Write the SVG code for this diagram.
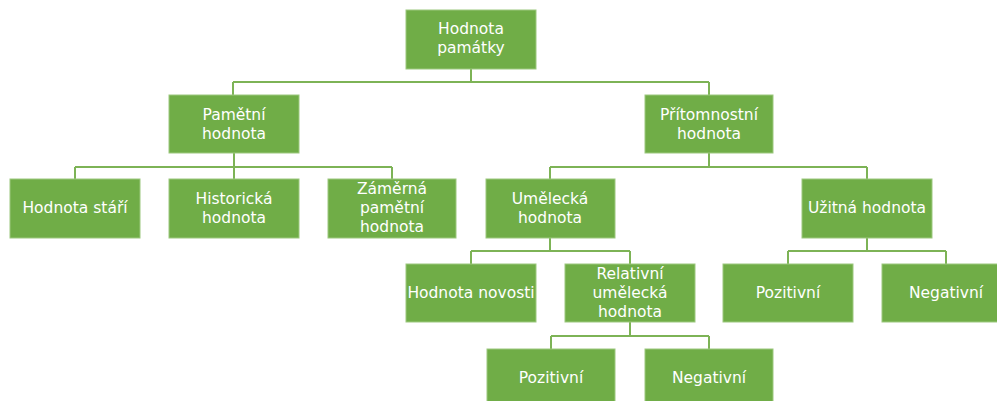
<svg xmlns="http://www.w3.org/2000/svg" width="997" height="401" viewBox="0 0 997 401">
<style>
.box{fill:#70AD47;stroke:#9CC87E;stroke-width:1}
.t{font-family:"DejaVu Sans",Verdana,sans-serif;font-size:15.5px;fill:#FFFFFF;text-anchor:middle}
.c{fill:none;stroke:#7DB356;stroke-width:2}
</style>
<rect width="997" height="401" fill="#FFFFFF"/>
<g id="connectors">
<path class="c" d="M471 69V82M233 82H709M233 82V95M709 82V95"/>
<path class="c" d="M234 153V167M75 167H392M75 167V179M234 167V179M392 167V179"/>
<path class="c" d="M709 153V167M550 167H867M550 167V179M867 167V179"/>
<path class="c" d="M550 238V251M471 251H630M471 251V264M630 251V264"/>
<path class="c" d="M867 238V251M788 251H946M788 251V264M946 251V264"/>
<path class="c" d="M630 322V336M551 336H709M551 336V349M709 336V349"/>
</g>
<g id="root"><rect class="box" x="406" y="10" width="130" height="59"/><text class="t" x="471" y="34">Hodnota</text><text class="t" x="471" y="53">památky</text></g>
<g id="pametni"><rect class="box" x="169" y="95" width="130" height="58"/><text class="t" x="234" y="120">Pamětní</text><text class="t" x="234" y="139">hodnota</text></g>
<g id="pritomnostni"><rect class="box" x="645" y="95" width="128" height="58"/><text class="t" x="709" y="120">Přítomnostní</text><text class="t" x="709" y="139">hodnota</text></g>
<g id="stari"><rect class="box" x="10" y="179" width="130" height="59"/><text class="t" x="75" y="213">Hodnota stáří</text></g>
<g id="historicka"><rect class="box" x="169" y="179" width="130" height="59"/><text class="t" x="234" y="204">Historická</text><text class="t" x="234" y="223">hodnota</text></g>
<g id="zamerna"><rect class="box" x="328" y="179" width="128" height="59"/><text class="t" x="392" y="194">Záměrná</text><text class="t" x="392" y="213">pamětní</text><text class="t" x="392" y="232">hodnota</text></g>
<g id="umelecka"><rect class="box" x="486" y="179" width="129" height="59"/><text class="t" x="550" y="204">Umělecká</text><text class="t" x="550" y="223">hodnota</text></g>
<g id="uzitna"><rect class="box" x="802" y="179" width="130" height="59"/><text class="t" x="867" y="213">Užitná hodnota</text></g>
<g id="novosti"><rect class="box" x="406" y="264" width="130" height="58"/><text class="t" x="471" y="298">Hodnota novosti</text></g>
<g id="relativni"><rect class="box" x="565" y="264" width="130" height="58"/><text class="t" x="630" y="279">Relativní</text><text class="t" x="630" y="298">umělecká</text><text class="t" x="630" y="317">hodnota</text></g>
<g id="uz-pozitivni"><rect class="box" x="723" y="264" width="130" height="58"/><text class="t" x="788" y="298">Pozitivní</text></g>
<g id="uz-negativni"><rect class="box" x="882" y="264" width="130" height="58"/><text class="t" x="946" y="298">Negativní</text></g>
<g id="rel-pozitivni"><rect class="box" x="487" y="349" width="128" height="60"/><text class="t" x="551" y="383">Pozitivní</text></g>
<g id="rel-negativni"><rect class="box" x="645" y="349" width="128" height="60"/><text class="t" x="709" y="383">Negativní</text></g>
</svg>
